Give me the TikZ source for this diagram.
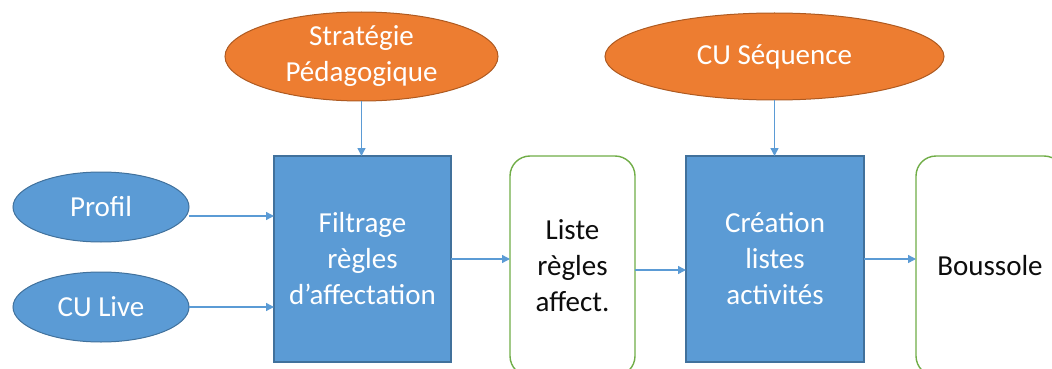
\documentclass[tikz,border=0pt]{standalone}
\usepackage{fontspec}
\setmainfont{Carlito}
\usetikzlibrary{shapes.geometric,arrows.meta}
\definecolor{bluefill}{HTML}{5B9BD5}
\definecolor{blueline}{HTML}{41719C}
\definecolor{orangefill}{HTML}{ED7D31}
\definecolor{orangeline}{HTML}{AE5A21}
\definecolor{greenline}{HTML}{70AD47}
\definecolor{darktext}{HTML}{0D0D0D}
\tikzset{
  lbl/.style={font=\fontsize{29}{36}\selectfont, align=center, inner sep=0pt, outer sep=0pt},
  inputoval/.style={lbl, ellipse, fill=bluefill, draw=blueline, line width=1pt, text=white},
  contextoval/.style={lbl, ellipse, fill=orangefill, draw=orangeline, line width=1pt, text=white},
  process/.style={lbl, rectangle, fill=bluefill, draw=blueline, line width=1.2pt, text=white},
  result/.style={lbl, rectangle, rounded corners=20pt, fill=white, draw=greenline, line width=1.4pt, text=darktext},
  flow/.style={draw=bluefill, line width=1.4pt, -{Triangle[length=8pt,width=8pt]}}
}
\begin{document}
\begin{tikzpicture}[x=1pt,y=-1pt]
\useasboundingbox (0,0) rectangle (1052,369);
\clip (0,0) rectangle (1052,369);

% context inputs
\node[contextoval, minimum width=273pt, minimum height=89pt] (strat) at (361.5,56.5) {Stratégie\\Pédagogique};
\node[contextoval, minimum width=339pt, minimum height=87pt] (seq) at (774.5,56.5) {CU Séquence};

% learner inputs
\node[inputoval, minimum width=176pt, minimum height=70pt] (profil) at (101,207) {Profil};
\node[inputoval, minimum width=176pt, minimum height=70pt] (culive) at (101,307) {CU Live};

% processing steps
\node[process, minimum width=177pt, minimum height=206pt] (filt) at (362.5,259) {Filtrage\\règles\\d’affectation};
\node[process, minimum width=178pt, minimum height=206pt] (crea) at (775,259) {Création\\listes\\activités};

% intermediate and final results
\node[result, minimum width=125pt, minimum height=220pt] (liste) at (572.5,266) {Liste\\règles\\affect.};
\node[result, minimum width=148pt, minimum height=220pt] (bous) at (990,266) {Boussole};

% connectors
\draw[flow] (strat.south) -- (strat.south |- filt.north);
\draw[flow] (seq.south) -- (seq.south |- crea.north);
\draw[flow] ([yshift=-9pt]profil.east) -- ([yshift=-9pt]profil.east -| filt.west);
\draw[flow] (culive.east) -- (culive.east -| filt.west);
\draw[flow] (filt.east) -- (filt.east -| liste.west);
\draw[flow] ([yshift=-4pt]liste.east) -- ([yshift=-4pt]liste.east -| crea.west);
\draw[flow] (crea.east) -- (crea.east -| bous.west);
\end{tikzpicture}
\end{document}
